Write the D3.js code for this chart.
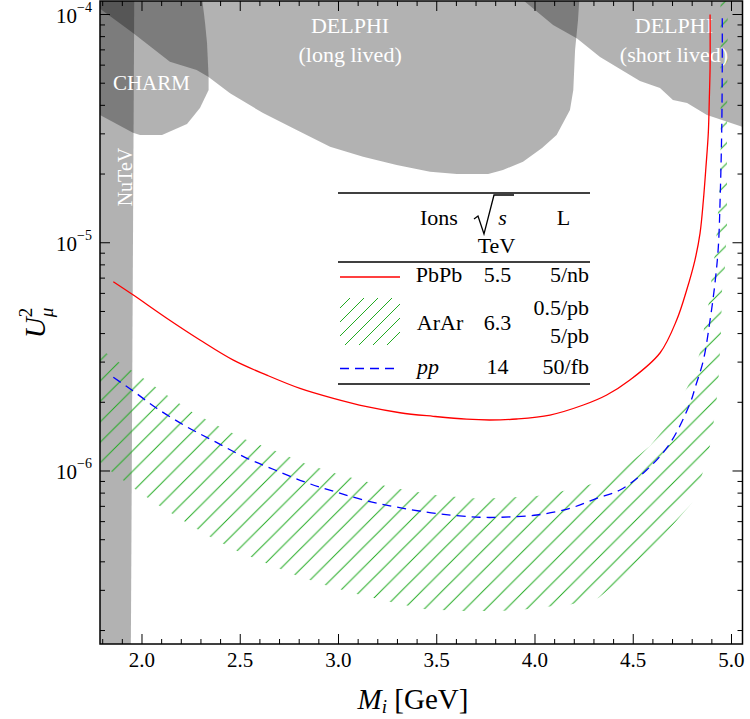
<!DOCTYPE html>
<html><head><meta charset="utf-8">
<script src="https://cdn.jsdelivr.net/npm/d3@7"></script>
<style>
body{margin:0;background:#fff}
svg{display:block}
text{font-family:"Liberation Serif","DejaVu Serif",serif;fill:#000}
</style>
</head><body>
<svg id="c" width="750" height="719"></svg>
<script>
// ---------------- data ----------------
const xDomain = [1.7863, 5.056];
const yDomain = [1.746e-7, 1.146e-4];
const xMajor = [2.0, 2.5, 3.0, 3.5, 4.0, 4.5, 5.0];
const xTickLabels = ["2.0", "2.5", "3.0", "3.5", "4.0", "4.5", "5.0"];
const yMajor = [1e-6, 1e-5, 1e-4];
const yTickExp = ["\u22126", "\u22125", "\u22124"];

// PbPb, sqrt(s)=5.5 TeV, L=5/nb (red solid)
const pbpbM = [1.854,1.956,2.126,2.295,2.465,2.635,2.804,2.974,3.144,3.313,3.482,3.652,3.771,3.907,4.076,4.246,4.365,4.483,4.636,4.721,4.772,4.814,4.840,4.857,4.870,4.882,4.887,4.891,4.891];
const pbpbU = [6.75e-6,5.90e-6,4.67e-6,3.75e-6,3.06e-6,2.63e-6,2.30e-6,2.08e-6,1.913e-6,1.80e-6,1.736e-6,1.686e-6,1.673e-6,1.69e-6,1.759e-6,1.946e-6,2.153e-6,2.504e-6,3.289e-6,4.586e-6,6.21e-6,8.40e-6,1.103e-5,1.539e-5,2.147e-5,3.026e-5,4.22e-5,5.89e-5,1.0e-4];

// pp, 14 TeV, 50/fb (blue dashed)
const ppM = [1.854,1.948,2.075,2.227,2.372,2.524,2.677,2.838,2.991,3.160,3.330,3.517,3.720,3.822,4.009,4.178,4.314,4.433,4.568,4.687,4.789,4.819,4.857,4.891,4.916,4.933,4.942,4.950,4.953,4.953];
const ppU = [2.573e-6,2.264e-6,1.883e-6,1.564e-6,1.344e-6,1.148e-6,1.010e-6,8.89e-7,8.07e-7,7.34e-7,6.865e-7,6.48e-7,6.27e-7,6.27e-7,6.415e-7,6.865e-7,7.59e-7,8.26e-7,1.010e-6,1.322e-6,1.98e-6,2.381e-6,3.06e-6,4.586e-6,6.66e-6,9.58e-6,1.539e-5,3.026e-5,5.89e-5,1.0e-4];

// ArAr, 6.3 TeV: band between 0.5/pb (upper) and 5/pb (lower)
const arHiM = [1.70,1.786,1.879,2.007,2.126,2.253,2.388,2.524,2.677,2.826,2.982,3.144,3.313,3.491,3.678,3.780,3.890,4.009,4.127,4.271,4.399,4.483,4.585,4.670,4.789,4.840,4.865,4.887,4.899,4.916,4.925,4.938,4.945,4.944,4.944];
const arHiU = [3.904e-6,3.441e-6,3.012e-6,2.547e-6,2.153e-6,1.818e-6,1.575e-6,1.377e-6,1.227e-6,1.081e-6,9.77e-7,8.977e-7,8.34e-7,7.85e-7,7.59e-7,7.59e-7,7.67e-7,7.77e-7,8.12e-7,8.68e-7,9.44e-7,1.087e-6,1.287e-6,1.575e-6,2.454e-6,3.32e-6,4.45e-6,5.61e-6,7.08e-6,9.02e-6,1.115e-5,1.702e-5,2.627e-5,6.32e-5,1.3e-4];
const arLoM = [1.70,1.786,1.846,1.964,2.088,2.215,2.346,2.482,2.626,2.779,2.931,3.093,3.259,3.432,3.618,3.807,3.924,4.042,4.169,4.322,4.433,4.560,4.687,4.799,4.855,4.891,4.911,4.926,4.936,4.947,4.952,4.967,4.977,4.977,4.982];
const arLoU = [1.243e-6,1.095e-6,9.93e-7,8.34e-7,7.05e-7,6.02e-7,5.15e-7,4.476e-7,3.965e-7,3.50e-7,3.167e-7,2.891e-7,2.675e-7,2.486e-7,2.436e-7,2.436e-7,2.46e-7,2.535e-7,2.587e-7,2.777e-7,3.33e-7,4.285e-7,5.63e-7,7.24e-7,9.90e-7,1.30e-6,1.673e-6,2.11e-6,2.687e-6,4.147e-6,6.21e-6,7.83e-6,1.196e-5,2.82e-5,1.3e-4];

// excluded regions
const nutevM = [1.70,1.962,1.942,1.70];
const nutevU = [2e-4,2e-4,1e-7,1e-7];
const charmM = [1.684,2.300,2.321,2.331,2.339,2.339,2.295,2.229,2.102,1.990,1.954,1.786,1.684];
const charmU = [1.3e-4,1.3e-4,9.18e-5,7.50e-5,5.32e-5,4.67e-5,3.894e-5,3.313e-5,2.965e-5,2.965e-5,3.034e-5,3.628e-5,4.054e-5];
const delphiLongM = [1.664,1.795,1.956,2.142,2.278,2.337,2.448,2.616,2.787,2.957,3.125,3.296,3.466,3.602,3.762,3.837,3.939,4.036,4.110,4.178,4.195,4.204,4.219,4.229];
const delphiLongU = [1.3e-4,1.046e-4,8.27e-5,6.21e-5,5.71e-5,5.34e-5,4.516e-5,3.70e-5,3.119e-5,2.635e-5,2.382e-5,2.19e-5,2.048e-5,2.001e-5,2.0e-5,2.083e-5,2.265e-5,2.60e-5,2.965e-5,3.815e-5,4.67e-5,6.99e-5,9.46e-5,1.3e-4];
const delphiShortM = [3.878,3.939,4.092,4.214,4.331,4.534,4.636,4.702,4.774,4.875,4.906,5.058,5.15,5.15];
const delphiShortU = [1.3e-4,1.157e-4,8.99e-5,7.86e-5,6.51e-5,5.11e-5,4.76e-5,4.22e-5,4.095e-5,3.628e-5,3.556e-5,3.215e-5,3.119e-5,1.3e-4];

// region labels (text, anchor in data coords)
const regionText = ["DELPHI","(long lived)","DELPHI","(short lived)","CHARM"];
const regionTextM = [3.059,3.059,4.707,4.707,2.048];
const regionTextU = [8.3e-5,6.19e-5,8.3e-5,6.19e-5,4.67e-5];

// legend table
const legendIons = ["PbPb","ArAr","pp"];
const legendSqrtS = ["5.5","6.3","14"];
const legendLumi = ["5/nb","0.5/pb","5/pb","50/fb"];

// ---------------- drawing ----------------
const plot = {l:100, r:742.5, t:1, b:644};
const x = d3.scaleLinear().domain(xDomain).range([plot.l, plot.r]);
const y = d3.scaleLog().domain(yDomain).range([plot.b, plot.t]);
const svg = d3.select("#c");
const defs = svg.append("defs");
defs.append("clipPath").attr("id","plotClip").append("rect")
  .attr("x",plot.l).attr("y",plot.t).attr("width",plot.r-plot.l).attr("height",plot.b-plot.t);

// hatch patterns ("/" lines, x+y = const)
function makeHatch(id, sp, off){
  const p = defs.append("pattern").attr("id",id).attr("patternUnits","userSpaceOnUse")
    .attr("width",sp).attr("height",sp).attr("patternTransform",`translate(${off},0)`);
  p.append("path")
    .attr("d",`M${-1},${sp+1}L${sp+1},${-1}M${-sp/2-1},${sp/2+1}L${sp/2+1},${-sp/2-1}M${sp/2-1},${sp*1.5+1}L${sp*1.5+1},${sp/2-1}`)
    .attr("stroke","#22aa22").attr("stroke-width",1).attr("fill","none");
}
makeHatch("hatchMain", 20.45, 10.8);
makeHatch("hatchLegend", 14, 4);

const polyPath = (M,U) => d3.line().x((d,i)=>x(M[i])).y((d,i)=>y(U[i]))(M) + "Z";

const g = svg.append("g").attr("clip-path","url(#plotClip)");

// gray regions
[[nutevM,nutevU],[charmM,charmU],[delphiLongM,delphiLongU],[delphiShortM,delphiShortU]].forEach(([M,U])=>{
  g.append("path").attr("d",polyPath(M,U)).attr("fill","#000").attr("fill-opacity",0.3).attr("stroke","none");
});

// hatched ArAr band
const bandM = arHiM.concat(arLoM.slice().reverse());
const bandU = arHiU.concat(arLoU.slice().reverse());
g.append("path").attr("d",polyPath(bandM,bandU)).attr("fill","url(#hatchMain)").attr("stroke","none");

// region labels
regionText.forEach((t,i)=>{
  g.append("text").attr("x",x(regionTextM[i])).attr("y",y(regionTextU[i]))
   .attr("text-anchor","middle").attr("font-size", t==="CHARM"?21:22)
   .style("fill","#fff").text(t);
});
g.append("text").attr("transform",`translate(${x(1.958)-2},${y(1.94e-5)}) rotate(-90)`)
  .attr("text-anchor","middle").attr("font-size",20).style("fill","#fff").text("NuTeV");

// curves
const curve = (M,U) => d3.line().x((d,i)=>x(M[i])).y((d,i)=>y(U[i])).curve(d3.curveCatmullRom)(M);
g.append("path").attr("d",curve(pbpbM,pbpbU)).attr("fill","none").attr("stroke","#ff0000").attr("stroke-width",1.3);
g.append("path").attr("d",curve(ppM,ppU)).attr("fill","none").attr("stroke","#0000ff").attr("stroke-width",1.3).attr("stroke-dasharray","9,6");

// ticks
const xMinor = d3.range(18,51).map(v=>v/10).filter(v=>!xMajor.some(m=>Math.abs(m-v)<1e-9));
const yMinor = [];
[-7,-6,-5].forEach(e=>{ for(let m=2;m<=9;m++){ const v=m*Math.pow(10,e); if(v>yDomain[0]&&v<yDomain[1]) yMinor.push(v);} });
const tk = svg.append("g").attr("stroke","#000").attr("stroke-width",1);
function xt(vals,len){
  tk.append("g").selectAll("line").data(vals).join("line")
    .attr("x1",d=>x(d)).attr("x2",d=>x(d)).attr("y1",plot.b).attr("y2",plot.b-len);
  tk.append("g").selectAll("line").data(vals).join("line")
    .attr("x1",d=>x(d)).attr("x2",d=>x(d)).attr("y1",plot.t).attr("y2",plot.t+len);
}
function yt(vals,len){
  tk.append("g").selectAll("line").data(vals).join("line")
    .attr("y1",d=>y(d)).attr("y2",d=>y(d)).attr("x1",plot.l).attr("x2",plot.l+len);
  tk.append("g").selectAll("line").data(vals).join("line")
    .attr("y1",d=>y(d)).attr("y2",d=>y(d)).attr("x1",plot.r).attr("x2",plot.r-len);
}
xt(xMajor,10); xt(xMinor,5); yt(yMajor,10); yt(yMinor,5);

// frame
svg.append("rect").attr("x",plot.l).attr("y",plot.t).attr("width",plot.r-plot.l).attr("height",plot.b-plot.t)
  .attr("fill","none").attr("stroke","#000").attr("stroke-width",1.5);

// tick labels
svg.append("g").selectAll("text").data(xMajor).join("text")
  .attr("x",d=>x(d)).attr("y",667).attr("text-anchor","middle").attr("font-size",21)
  .text((d,i)=>xTickLabels[i]);
const yl = svg.append("g").selectAll("text").data(yMajor).join("text")
  .attr("x",92).attr("y",d=>y(d)+8).attr("text-anchor","end").attr("font-size",21);
yl.append("tspan").text("10");
yl.append("tspan").attr("font-size",14).attr("dy",-10.5).text((d,i)=>yTickExp[i]);

// axis titles
const xtitle = svg.append("text").attr("x",413).attr("y",709).attr("text-anchor","middle").attr("font-size",29);
xtitle.append("tspan").attr("font-style","italic").text("M");
xtitle.append("tspan").attr("font-style","italic").attr("font-size",19).attr("dy",4).text("i");
xtitle.append("tspan").attr("dy",-4).text(" [GeV]");

const ytitle = svg.append("text").attr("transform","translate(45,323) rotate(-90)").attr("text-anchor","middle").attr("font-size",29);
ytitle.append("tspan").attr("font-style","italic").text("U");
ytitle.append("tspan").attr("font-size",19).attr("dy",-13).text("2");
ytitle.append("tspan").attr("font-size",19).attr("font-style","italic").attr("dx",-9.5).attr("dy",21).text("\u03bc");

// legend table
const lg = svg.append("g").attr("font-size",22);
[193,262,384].forEach(yy=>lg.append("line").attr("x1",338).attr("x2",590).attr("y1",yy).attr("y2",yy).attr("stroke","#000").attr("stroke-width",1.3));
lg.append("text").attr("x",439).attr("y",225).attr("text-anchor","middle").text("Ions");
lg.append("path").attr("d","M474,219L478,216L484,234L494,195L514,195").attr("fill","none").attr("stroke","#000").attr("stroke-width",1.3);
lg.append("text").attr("x",502.5).attr("y",225).attr("text-anchor","middle").attr("font-style","italic").text("s");
lg.append("text").attr("x",496.5).attr("y",253).attr("text-anchor","middle").text("TeV");
lg.append("text").attr("x",563.5).attr("y",225).attr("text-anchor","middle").text("L");
// rows
lg.append("line").attr("x1",340).attr("x2",400).attr("y1",277).attr("y2",277).attr("stroke","#ff0000").attr("stroke-width",1.5);
lg.append("rect").attr("x",340).attr("y",298).attr("width",60).attr("height",47).attr("fill","url(#hatchLegend)");
lg.append("line").attr("x1",340).attr("x2",400).attr("y1",368.5).attr("y2",368.5).attr("stroke","#0000ff").attr("stroke-width",1.5).attr("stroke-dasharray","9,6");
lg.append("text").attr("x",439).attr("y",282).attr("text-anchor","middle").text(legendIons[0]);
lg.append("text").attr("x",440).attr("y",330).attr("text-anchor","middle").text(legendIons[1]);
lg.append("text").attr("x",417).attr("y",374).attr("text-anchor","start").attr("font-style","italic").text(legendIons[2]);
lg.append("text").attr("x",497.5).attr("y",282).attr("text-anchor","middle").text(legendSqrtS[0]);
lg.append("text").attr("x",497.5).attr("y",330).attr("text-anchor","middle").text(legendSqrtS[1]);
lg.append("text").attr("x",497.5).attr("y",374).attr("text-anchor","middle").text(legendSqrtS[2]);
lg.append("text").attr("x",589).attr("y",282).attr("text-anchor","end").text(legendLumi[0]);
lg.append("text").attr("x",589).attr("y",315).attr("text-anchor","end").text(legendLumi[1]);
lg.append("text").attr("x",589).attr("y",343).attr("text-anchor","end").text(legendLumi[2]);
lg.append("text").attr("x",589).attr("y",374).attr("text-anchor","end").text(legendLumi[3]);
</script>
</body></html>
